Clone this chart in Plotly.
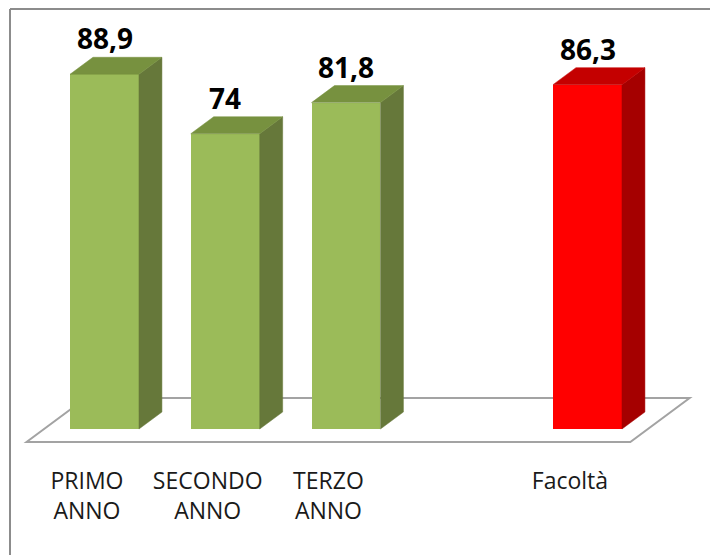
import plotly.graph_objects as go

# ---- data ----
categories = ["PRIMO<br>ANNO", "SECONDO<br>ANNO", "TERZO<br>ANNO", "Facoltà"]
positions = [0, 1, 2, 4]
values = [88.9, 74, 81.8, 86.3]
front_colors = ["#9BBB59", "#9BBB59", "#9BBB59", "#FF0000"]
side_colors = ["#66783A", "#66783A", "#66783A", "#A50000"]
top_colors = ["#77913F", "#77913F", "#77913F", "#C40000"]

# ---- 3D projection parameters (data units) ----
BAR_W = 0.571      # bar width in category units
DX = 0.19          # depth offset along x (category units)
DY = 4.26          # depth offset along y (value units)
FLOOR_FRONT = -0.765
FLOOR_BACK = 1.82
X_MIN, X_MAX = -0.5, 4.5

fig = go.Figure()

# front faces
fig.add_trace(go.Bar(
    x=positions, y=values, width=BAR_W,
    marker=dict(color=front_colors, line=dict(width=0)),
    hoverinfo="skip", showlegend=False,
))

# side and top faces
for c, v, sc, tc in zip(positions, values, side_colors, top_colors):
    xr = c + BAR_W / 2
    xl = c - BAR_W / 2
    fig.add_trace(go.Scatter(
        x=[xr, xr + DX, xr + DX, xr, xr], y=[0, DY, v + DY, v, 0],
        fill="toself", fillcolor=sc, mode="lines",
        line=dict(width=0.5, color=sc), hoverinfo="skip", showlegend=False,
    ))
    fig.add_trace(go.Scatter(
        x=[xl, xr, xr + DX, xl + DX, xl], y=[v, v, v + DY, v + DY, v],
        fill="toself", fillcolor=tc, mode="lines",
        line=dict(width=0.5, color=tc), hoverinfo="skip", showlegend=False,
    ))

# floor
fx = [X_MIN + FLOOR_FRONT * DX, X_MAX + FLOOR_FRONT * DX,
      X_MAX + FLOOR_BACK * DX, X_MIN + FLOOR_BACK * DX]
fy = [FLOOR_FRONT * DY, FLOOR_FRONT * DY, FLOOR_BACK * DY, FLOOR_BACK * DY]
path = "M " + " L ".join(f"{a},{b}" for a, b in zip(fx, fy)) + " Z"
shapes = [dict(type="path", path=path, xref="x", yref="y", layer="below",
               fillcolor="white", line=dict(color="#A3A3A3", width=2))]

# outer frame
W, H = 718, 555
shapes.append(dict(type="line", xref="paper", yref="paper",
                   x0=2 / W, x1=1, y0=1 - 1 / H, y1=1 - 1 / H,
                   line=dict(color="#8C8C8C", width=2)))
shapes.append(dict(type="line", xref="paper", yref="paper",
                   x0=2 / W, x1=2 / W, y0=0, y1=1 - 1 / H,
                   line=dict(color="#8C8C8C", width=2)))

# value labels
annotations = []
for c, v in zip(positions, values):
    annotations.append(dict(
        x=c, y=v + DY, xref="x", yref="y", yanchor="middle", yshift=19,
        text=("%g" % v).replace(".", ","), showarrow=False,
        font=dict(family="Open Sans", size=28, color="black", weight="bold"),
    ))

fig.update_layout(
    width=W, height=H,
    margin=dict(l=0, r=0, t=0, b=0),
    template="none",
    paper_bgcolor="white", plot_bgcolor="white",
    shapes=shapes, annotations=annotations,
    bargap=0,
    xaxis=dict(
        range=[-0.7992, 5.147], anchor="free", position=(H - 457) / H,
        tickvals=[c + FLOOR_FRONT * DX for c in positions], ticktext=categories,
        showgrid=False, zeroline=False, showline=False, ticks="",
        tickfont=dict(family="Open Sans", size=23, color="#1A1A1A"),
        automargin=False, fixedrange=True,
    ),
    yaxis=dict(range=[-33.58, 105.51], visible=False, automargin=False,
               fixedrange=True),
)

fig.write_html("out.html")
